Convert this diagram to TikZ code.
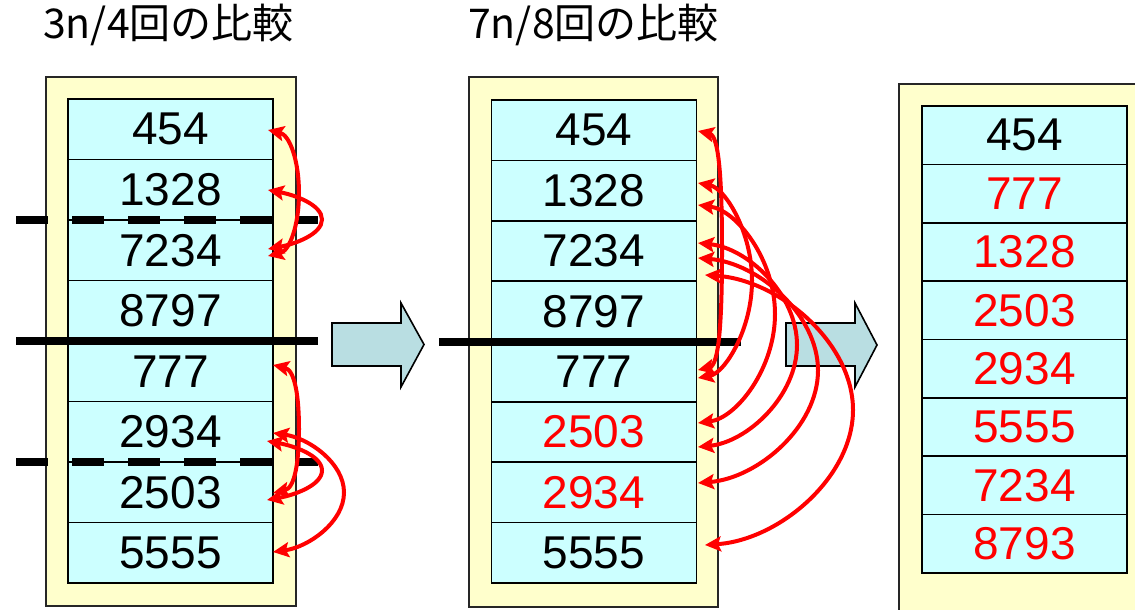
\documentclass[tikz,border=0pt]{standalone}
\usepackage{fontspec}
\setmainfont{Liberation Sans}
\newfontfamily\jpfont{Noto Sans CJK JP}
\usetikzlibrary{arrows.meta,calc}
\definecolor{cellc}{RGB}{204,255,255}
\definecolor{boxc}{RGB}{255,255,204}
\definecolor{barrow}{RGB}{185,222,226}
\definecolor{redc}{RGB}{255,0,0}
\newcommand\swaparc[3]{\draw[swp] let \p1=(#1), \p2=(#2) in (\p1) .. controls ({\x1+max((#3pt-\x1)/2,22pt)},{\y1-5pt}) and (#3pt,{0.75*\y1+0.25*\y2}) .. (#3pt,{0.5*\y1+0.5*\y2}) .. controls (#3pt,{0.25*\y1+0.75*\y2}) and ({\x2+max((#3pt-\x2)/2,22pt)},{\y2+5pt}) .. (\p2);}
\begin{document}
\begin{tikzpicture}[x=1pt,y=-1pt,
 cell/.style={draw=black,line width=1.6pt,fill=cellc,minimum width=205pt,inner sep=0pt,font=\fontsize{46}{46}\selectfont},
 outer/.style={draw=black!85,line width=1.6pt,fill=boxc},
 sep/.style={line width=7.5pt,black},
 swp/.style={draw=redc,line width=4pt,arrows={Stealth[length=16pt,width=15pt,inset=3pt]-Stealth[length=16pt,width=15pt,inset=3pt]}},
 blk/.style={draw=black,line width=1.6pt,fill=barrow},
 ttl/.style={font=\jpfont\fontsize{41}{41}\selectfont,anchor=base west,inner sep=0pt}]
\clip (0,0) rectangle (1135,610);
\fill[white] (0,0) rectangle (1135,610);

% titles
\node[ttl] (t1) at (43,39) {3n/4回の比較};
\node[ttl] (t2) at (468,39) {7n/8回の比較};

% outer boxes
\draw[outer] (46,77) rectangle (296,606);
\draw[outer] (469,77) rectangle (718,607);
\draw[outer] (899,84) rectangle (1160,640);

% left cells
\foreach \t [count=\i] in {454,1328,7234,8797,777,2934,2503,5555}
  \node[cell,minimum height=60.5pt] (L\i) at (170.5,{99+60.5*(\i-0.5)}) {\raisebox{-2pt}{\t}};
% middle cells
\foreach \t/\c [count=\i] in {454/black,1328/black,7234/black,8797/black,777/black,2503/redc,2934/redc,5555/black}
  \node[cell,minimum height=60.375pt,text=\c] (M\i) at (594,{100+60.375*(\i-0.5)}) {\raisebox{-2pt}{\t}};
% right cells
\foreach \t/\c [count=\i] in {454/black,777/redc,1328/redc,2503/redc,2934/redc,5555/redc,7234/redc,8793/redc}
  \node[cell,minimum height=58.375pt,text=\c] (R\i) at (1024.5,{106+58.375*(\i-0.5)}) {\raisebox{-2pt}{\t}};

% separators
\draw[sep,dash pattern=on 32pt off 24pt] (16,220) -- (318,220);
\draw[sep,dash pattern=on 32pt off 24pt] (16,462) -- (318,462);
\draw[sep] (16,341) -- (318,341);
\draw[sep] (439,342) -- (741,342);

% block arrows
\draw[blk] (332,323) -- (401,323) -- (401,303) -- (424,344.5) -- (401,387) -- (401,366) -- (332,366) -- cycle;
\draw[blk] (786,323) -- (855,323) -- (855,303) -- (877,345) -- (855,387) -- (855,366) -- (786,366) -- cycle;

% arrow end points
\coordinate (a1s) at (268,130); \coordinate (a1e) at (268,256);
\coordinate (a2s) at (268,190); \coordinate (a2e) at (268,249);
\coordinate (b1s) at (273,365); \coordinate (b1e) at (273,493);
\coordinate (b2s) at (267,441); \coordinate (b2e) at (267,500);
\coordinate (b3s) at (273,433); \coordinate (b3e) at (273,552);
\coordinate (c1s) at (698,131); \coordinate (c1e) at (698,370);
\coordinate (c2s) at (698,183); \coordinate (c2e) at (698,378);
\coordinate (c3s) at (698,205); \coordinate (c3e) at (698,423);
\coordinate (c4s) at (698,243); \coordinate (c4e) at (698,447);
\coordinate (c5s) at (698,258); \coordinate (c5e) at (698,483);
\coordinate (c6s) at (705,275); \coordinate (c6e) at (705,545);

\swaparc{a1s}{a1e}{299}
\swaparc{a2s}{a2e}{322}
\swaparc{b1s}{b1e}{299}
\swaparc{b2s}{b2e}{322}
\swaparc{b3s}{b3e}{344}
\swaparc{c1s}{c1e}{722}
\swaparc{c2s}{c2e}{752}
\swaparc{c3s}{c3e}{775}
\swaparc{c4s}{c4e}{797}
\swaparc{c5s}{c5e}{818}
\swaparc{c6s}{c6e}{853}
\end{tikzpicture}
\end{document}
